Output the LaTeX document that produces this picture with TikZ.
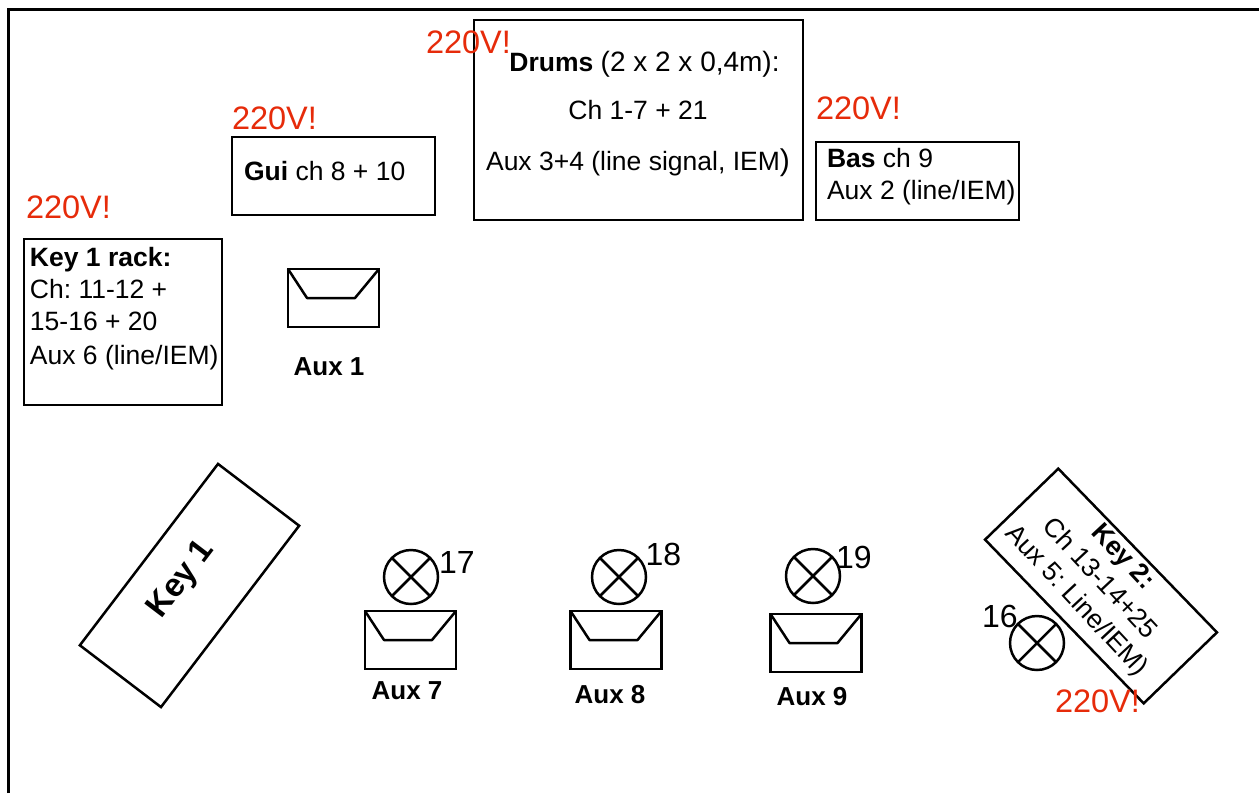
\documentclass[tikz,border=0pt]{standalone}
\usepackage{fontspec}
\setmainfont{Liberation Sans}
\frenchspacing
\definecolor{warnred}{HTML}{E62B0A}
\tikzset{
  x=1pt,y=-1pt,
  every node/.style={inner sep=0pt,outer sep=0pt},
  boxed/.style={draw=black,line width=2.5pt,rectangle,anchor=north west},
  body/.style={font=\fontsize{26.5}{32}\selectfont,text=black},
  lab/.style={font=\fontsize{26}{32}\selectfont\bfseries,text=black,anchor=base},
  warn/.style={font=\fontsize{32.5}{38}\selectfont,text=warnred,anchor=base west},
  num/.style={font=\fontsize{32}{38}\selectfont,text=black,anchor=base west},
  lamp/.style={circle,draw=black,line width=2.5pt,minimum size=54pt,
    path picture={\draw[line width=2.5pt]
      (path picture bounding box.north west)--(path picture bounding box.south east)
      (path picture bounding box.north east)--(path picture bounding box.south west);}},
  envbox/.style={draw=black,line width=2.5pt,rectangle,minimum width=91pt,minimum height=58pt,anchor=north west},
  envelope/.pic={
    \node[envbox] (-box) at (0,0) {};
    \coordinate (-a) at (19,29); \coordinate (-b) at (67,29);
    \draw[line width=2.5pt,line join=round] (-box.north west)--(-a)--(-b)--(-box.north east);
  }
}
\begin{document}
\begin{tikzpicture}
\useasboundingbox (0,0) rectangle (1259,793);
% frame
\coordinate (fa) at (8.5,793); \coordinate (fb) at (8.5,9); \coordinate (fc) at (1259,9);
\draw[line width=3pt] (fa)--(fb)--(fc);
% boxes
\node[boxed,minimum width=329pt,minimum height=200pt] (drums) at (474,20) {};
\node[body,anchor=base] (drumsA) at (644.5,71) {\textbf{Drums} {\fontsize{28}{32}\selectfont (2 x 2 x 0,4m):}};
\node[body,anchor=base] (drumsB) at (638,119) {Ch 1-7 + 21};
\node[body,anchor=base] (drumsC) at (638,170) {Aux 3+4 (line signal, IEM{\fontsize{30}{32}\selectfont )}};
\node[boxed,minimum width=203pt,minimum height=78pt] (gui) at (232,137) {};
\node[body,anchor=base west] (guiA) at (244,180) {\textbf{Gui} ch 8 + 10};
\node[boxed,minimum width=203pt,minimum height=78pt] (bas) at (816,142) {};
\node[body,anchor=base west] (basA) at (827,167) {\textbf{Bas} ch 9};
\node[body,anchor=base west] (basB) at (827,199) {Aux 2 (line/IEM)};
\node[boxed,minimum width=198pt,minimum height=166pt] (rack) at (24,239) {};
\node[body,anchor=base west] (rackA) at (30,266) {\textbf{Key 1 rack:}};
\node[body,anchor=base west] (rackB) at (30,298) {Ch: 11-12 +};
\node[body,anchor=base west] (rackC) at (30,330) {15-16 + 20};
\node[body,anchor=base west] (rackD) at (30,364) {Aux 6 (line/IEM)};
% warnings
\node[warn] (w1) at (426,53) {220V!};
\node[warn] (w2) at (232,129) {220V!};
\node[warn] (w3) at (816,119) {220V!};
\node[warn] (w4) at (26,218) {220V!};
% envelopes
\pic (e1) at (288,269) {envelope};
\pic (e7) at (365,611) {envelope};
\pic (e8) at (570.5,611) {envelope};
\pic (e9) at (770.5,614) {envelope};
\node[lab] (l1) at (329,375) {Aux 1};
\node[lab] (l7) at (407,699) {Aux 7};
\node[lab] (l8) at (610,703) {Aux 8};
\node[lab] (l9) at (812,705) {Aux 9};
% lamps
\node[lamp] (m17) at (411,577) {};
\node[lamp] (m18) at (619,577) {};
\node[lamp] (m19) at (813,576) {};
\node[lamp] (m16) at (1037,643) {};
\node[num] (n17) at (439,573) {17};
\node[num] (n18) at (645.5,565) {18};
\node[num] (n19) at (836,568) {19};
\node[num] (n16) at (982,627) {16};
% keys
\node[draw=black,line width=2.5pt,rectangle,minimum width=228pt,minimum height=102pt,rotate=52.7] (key1) at (189.5,585.5) {};
\node[rotate=52.7,font=\fontsize{33}{38}\selectfont\bfseries] (key1t) at (182,580) {Key 1};
\node[draw=black,line width=2.5pt,rectangle,minimum width=228pt,minimum height=102pt,rotate=-45.9] (key2) at (1101,586) {};
\node[rotate=-47,align=center,font=\fontsize{26.5}{32}\selectfont] (key2t) at (1099,579.5) {\textbf{Key 2:}\\Ch 13-14+25\\Aux 5: Line/IEM)};
\node[warn] (w5) at (1055,712) {220V!};
\end{tikzpicture}
\end{document}
